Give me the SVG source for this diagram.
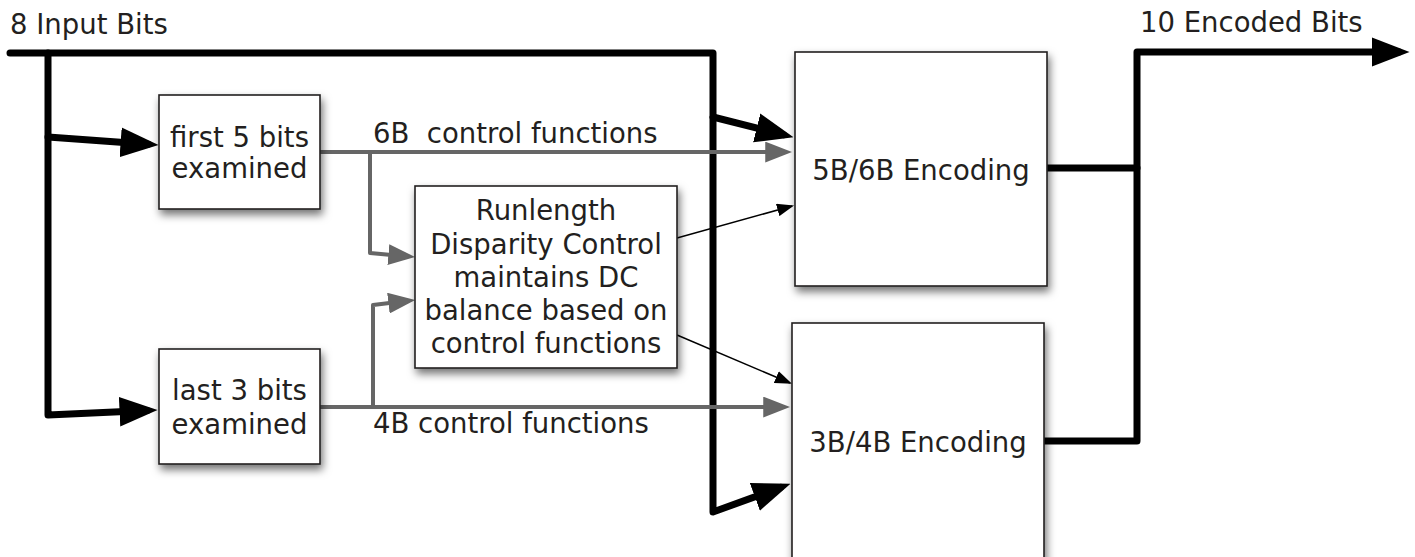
<svg xmlns="http://www.w3.org/2000/svg" width="1415" height="557" viewBox="0 0 1415 557">
<style>
text{font-family:"DejaVu Sans","Verdana",sans-serif;font-size:27.5px;fill:#231f20}
.c{text-anchor:middle}
.box{fill:#fff;stroke:#231f20;stroke-width:1.6;filter:url(#sh)}
.thick{fill:none;stroke:#000;stroke-width:7;stroke-linejoin:round;stroke-linecap:round}
.gray{fill:none;stroke:#666;stroke-width:4;stroke-linejoin:round}
.thin{fill:none;stroke:#000;stroke-width:1.5}
</style>
<defs>
<filter id="sh" x="-20%" y="-20%" width="140%" height="140%">
<feDropShadow dx="2" dy="5" stdDeviation="4" flood-color="#000" flood-opacity="0.55"/>
</filter>
<marker id="ak" markerUnits="userSpaceOnUse" markerWidth="38" markerHeight="30" viewBox="0 0 36 28" refX="26" refY="14" orient="auto">
<path d="M0,0 L36,14 L0,28 z" fill="#000"/>
</marker>
<marker id="ag" markerUnits="userSpaceOnUse" markerWidth="27" markerHeight="21" viewBox="0 0 26 20" refX="19" refY="10" orient="auto">
<path d="M0,0 L26,10 L0,20 z" fill="#666"/>
</marker>
<marker id="at" markerUnits="userSpaceOnUse" markerWidth="17" markerHeight="13" viewBox="0 0 16 12" refX="14" refY="6" orient="auto">
<path d="M0,0 L16,6 L0,12 z" fill="#000"/>
</marker>
</defs>

<g id="connectors">
<polyline class="thick" points="10,53 713,53 713,512 780.6,487.4" marker-end="url(#ak)"/>
<polyline class="thick" points="48,53 48,415 147,410.5" marker-end="url(#ak)"/>
<line class="thick" x1="48" y1="137" x2="148" y2="144.3" marker-end="url(#ak)"/>
<line class="thick" x1="713" y1="117" x2="783.3" y2="134.6" marker-end="url(#ak)"/>
<polyline class="thick" points="1047,168 1137,168"/>
<polyline class="thick" points="1043,441 1137,441 1137,52 1399,52" marker-end="url(#ak)"/>
<line class="gray" x1="320" y1="152" x2="785" y2="152" marker-end="url(#ag)"/>
<line class="gray" x1="320" y1="407" x2="783" y2="407" marker-end="url(#ag)"/>
<polyline class="gray" points="370,152 370,253 408,256.4" marker-end="url(#ag)"/>
<polyline class="gray" points="373,407 373,305 408,300.8" marker-end="url(#ag)"/>
<line class="thin" x1="677" y1="238" x2="792" y2="206" marker-end="url(#at)"/>
<line class="thin" x1="677" y1="335" x2="790" y2="383" marker-end="url(#at)"/>
</g>

<g id="labels">
<text x="10" y="34">8 Input Bits</text>
<text x="1140" y="32">10 Encoded Bits</text>
<text x="373" y="143" xml:space="preserve">6B  control functions</text>
<text x="373" y="433">4B control functions</text>
</g>

<g id="first5">
<rect class="box" x="159" y="95" width="161" height="114"/>
<text class="c" x="239.5" y="147">first 5 bits</text>
<text class="c" x="239.5" y="178">examined</text>
</g>

<g id="last3">
<rect class="box" x="159" y="349" width="161" height="115"/>
<text class="c" x="239.5" y="400">last 3 bits</text>
<text class="c" x="239.5" y="434">examined</text>
</g>

<g id="runlength">
<rect class="box" x="415" y="186" width="262" height="182"/>
<text class="c" x="546" y="220">Runlength</text>
<text class="c" x="546" y="254">Disparity Control</text>
<text class="c" x="546" y="287">maintains DC</text>
<text class="c" x="546" y="320">balance based on</text>
<text class="c" x="546" y="353">control functions</text>
</g>

<g id="enc56">
<rect class="box" x="795" y="52" width="252" height="234"/>
<text class="c" x="921" y="180">5B/6B Encoding</text>
</g>

<g id="enc34">
<rect class="box" x="792" y="323" width="252" height="250"/>
<text class="c" x="918" y="452">3B/4B Encoding</text>
</g>
</svg>
